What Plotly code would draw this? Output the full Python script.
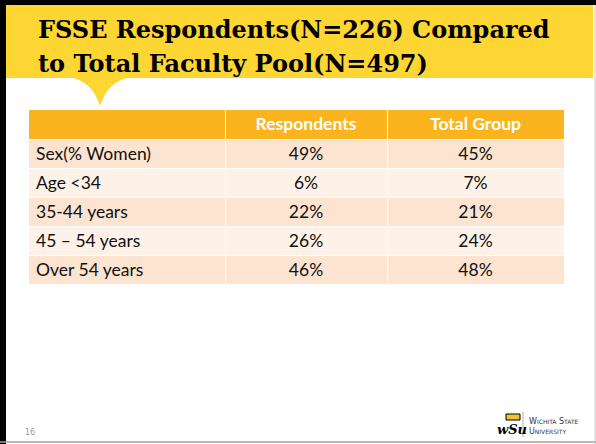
import plotly.graph_objects as go

W, H = 596, 444

# table data ("\u02c2" is used for "<" because a literal "<" makes plotly treat the cell as markup and grow the row)
categories = ["Sex(% Women)", "Age \u02c234", "35-44 years", "45 \u2013 54 years", "Over 54 years"]
respondents = ["49%", "6%", "22%", "26%", "46%"]
total_group = ["45%", "7%", "21%", "24%", "48%"]
headers = ["", "Respondents", "Total Group"]

title_lines = ["FSSE Respondents(N=226) Compared", "to Total Faculty Pool(N=497)"]


def px_x(x):
    return x / W


def px_y(y):
    return 1 - y / H


row_fill = ["#FCE4D0" if i % 2 == 0 else "#FEF1E7" for i in range(len(categories))]

fig = go.Figure()

fig.add_trace(go.Table(
    domain=dict(x=[px_x(28), px_x(564)], y=[px_y(290), px_y(109)]),
    columnwidth=[197, 162, 177],
    header=dict(
        values=headers,
        fill_color="#FBB41E",
        line=dict(color="white", width=1),
        font=dict(family="Lato", size=17.5, color="white", weight="bold"),
        align="center",
        height=30,
    ),
    cells=dict(
        values=[categories, respondents, total_group],
        fill_color=[row_fill, row_fill, row_fill],
        line=dict(color="white", width=1),
        font=dict(family="Lato", size=17.5, color="#111111"),
        align=["left", "center", "center"],
        height=29,
    ),
))

shapes = [
    # yellow title band
    dict(type="rect", xref="paper", yref="paper", x0=px_x(6), x1=px_x(593),
         y0=px_y(78), y1=px_y(5), fillcolor="#FDD633", line=dict(width=0), layer="below"),
    # speech bubble notch
    dict(type="path", xref="paper", yref="paper",
         path=(f"M {px_x(68)},{px_y(77)} Q {px_x(92)},{px_y(80)} {px_x(100)},{px_y(106)} "
               f"Q {px_x(108)},{px_y(80)} {px_x(132)},{px_y(77)} Z"),
         fillcolor="#FDD633", line=dict(width=0), layer="below"),
    # slide frame
    dict(type="rect", xref="paper", yref="paper", x0=0, x1=px_x(6), y0=0, y1=1,
         fillcolor="black", line=dict(width=0)),
    dict(type="rect", xref="paper", yref="paper", x0=0, x1=1, y0=px_y(5), y1=1,
         fillcolor="black", line=dict(width=0)),
    dict(type="line", xref="paper", yref="paper", x0=0, x1=1, y0=px_y(442), y1=px_y(442),
         line=dict(color="#A0A0A0", width=1.5)),
    dict(type="line", xref="paper", yref="paper", x0=px_x(595), x1=px_x(595), y0=0, y1=px_y(5),
         line=dict(color="#C8C8C8", width=1)),
    # logo divider
    dict(type="line", xref="paper", yref="paper", x0=px_x(523), x1=px_x(523),
         y0=px_y(437), y1=px_y(412), line=dict(color="#B0B0B0", width=1)),
    # logo wheat mark
    dict(type="rect", xref="paper", yref="paper", x0=px_x(506), x1=px_x(520),
         y0=px_y(420), y1=px_y(414), fillcolor="#F2C230", line=dict(color="black", width=1)),
]

annotations = []
for i, line in enumerate(title_lines):
    annotations.append(dict(
        x=px_x(36), y=px_y(30 + 33 * i), xref="paper", yref="paper",
        text=f"<b>{line}</b>", showarrow=False, xanchor="left", yanchor="middle",
        font=dict(family="DejaVu Serif", size=24, color="black"),
    ))

annotations += [
    dict(x=px_x(23), y=px_y(432), xref="paper", yref="paper", text="16", showarrow=False,
         xanchor="left", yanchor="middle", font=dict(family="DejaVu Sans", size=8, color="#999999")),
    dict(x=px_x(512), y=px_y(429), xref="paper", yref="paper", text="<b><i>wSu</i></b>",
         showarrow=False, xanchor="center", yanchor="middle",
         font=dict(family="DejaVu Serif", size=13, color="black")),
    dict(x=px_x(527), y=px_y(426), xref="paper", yref="paper",
         text="W<span style='font-size:6px'>ICHITA</span> S<span style='font-size:6px'>TATE</span>"
              "<br>U<span style='font-size:6px'>NIVERSITY</span>",
         showarrow=False, xanchor="left", yanchor="middle", align="left",
         font=dict(family="DejaVu Sans", size=8, color="#333333")),
]

fig.update_layout(
    width=W, height=H,
    margin=dict(l=0, r=0, t=0, b=0),
    paper_bgcolor="white",
    plot_bgcolor="white",
    shapes=shapes,
    annotations=annotations,
    showlegend=False,
)

fig.write_html("out.html", config={"displayModeBar": False},
               post_script="document.body.style.margin='0';")
